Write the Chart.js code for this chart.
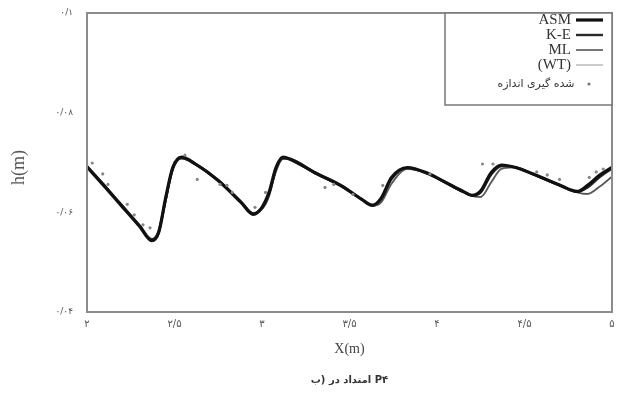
<!DOCTYPE html>
<html>
<head>
<meta charset="utf-8">
<script src="https://cdn.jsdelivr.net/npm/chart.js@4.4.1/dist/chart.umd.min.js"></script>
<style>
html, body { margin: 0; padding: 0; background: #fff; }
</style>
</head>
<body>
<canvas id="chart" width="623" height="397"></canvas>
<script>
// tick labels (Persian digits, "/" as decimal mark)
let xTicks = [2, 2.5, 3, 3.5, 4, 4.5, 5];
let xTickLabels = ["۲", "۲/۵", "۳", "۳/۵", "۴", "۴/۵", "۵"];
let yTicks = [0.04, 0.06, 0.08, 0.1];
let yTickLabels = ["۰/۰۴", "۰/۰۶", "۰/۰۸", "۰/۱"];

// model curves share the same x positions
let xs = [2.00, 2.10, 2.20, 2.30, 2.37, 2.41, 2.45, 2.49, 2.54, 2.62, 2.75, 2.88, 2.95, 3.00,
  3.04, 3.08, 3.12, 3.16, 3.30, 3.45, 3.57, 3.63, 3.68, 3.74, 3.83, 3.95, 4.05, 4.15, 4.20,
  4.25, 4.31, 4.37, 4.45, 4.55, 4.70, 4.80, 4.86, 4.93, 5.00];
let asmH = [0.0691, 0.0652, 0.0612, 0.0572, 0.0543, 0.0560, 0.0630, 0.0690, 0.0711, 0.0697,
  0.0664, 0.0620, 0.0596, 0.0610, 0.0640, 0.0690, 0.0711, 0.0707, 0.0680, 0.0654, 0.0626,
  0.0614, 0.0628, 0.0670, 0.0690, 0.0678, 0.0660, 0.0642, 0.0634, 0.0643, 0.0680, 0.0695,
  0.0690, 0.0677, 0.0655, 0.0642, 0.0654, 0.0675, 0.0690];
let keH = [0.0693, 0.0654, 0.0614, 0.0574, 0.0546, 0.0563, 0.0628, 0.0688, 0.0709, 0.0696,
  0.0663, 0.0621, 0.0598, 0.0609, 0.0637, 0.0687, 0.0709, 0.0706, 0.0679, 0.0653, 0.0626,
  0.0615, 0.0626, 0.0667, 0.0689, 0.0677, 0.0659, 0.0641, 0.0634, 0.0640, 0.0676, 0.0693,
  0.0690, 0.0676, 0.0654, 0.0641, 0.0650, 0.0671, 0.0688];
let mlH = [0.0692, 0.0653, 0.0613, 0.0573, 0.0545, 0.0558, 0.0622, 0.0684, 0.0708, 0.0698,
  0.0665, 0.0622, 0.0598, 0.0606, 0.0632, 0.0682, 0.0707, 0.0707, 0.0681, 0.0655, 0.0627,
  0.0613, 0.0620, 0.0658, 0.0687, 0.0677, 0.0659, 0.0640, 0.0633, 0.0631, 0.0661, 0.0688,
  0.0690, 0.0676, 0.0654, 0.0640, 0.0637, 0.0652, 0.0672];
let wtH = [0.0690, 0.0651, 0.0611, 0.0571, 0.0544, 0.0556, 0.0619, 0.0682, 0.0707, 0.0697,
  0.0665, 0.0623, 0.0599, 0.0605, 0.0630, 0.0680, 0.0706, 0.0706, 0.0681, 0.0656, 0.0628,
  0.0613, 0.0618, 0.0655, 0.0686, 0.0677, 0.0659, 0.0640, 0.0632, 0.0630, 0.0658, 0.0686,
  0.0690, 0.0676, 0.0654, 0.0640, 0.0636, 0.0650, 0.0670];

// measured points
let measX = [2.03, 2.09, 2.12, 2.23, 2.27, 2.32, 2.36, 2.56, 2.63, 2.76, 2.80, 2.83, 2.96, 3.02,
  3.36, 3.41, 3.52, 3.69, 3.96, 4.26, 4.32, 4.57, 4.63, 4.70, 4.87, 4.91, 4.95];
let measH = [0.0699, 0.0677, 0.0656, 0.0616, 0.0595, 0.0575, 0.0569, 0.0715, 0.0666, 0.0656,
  0.0654, 0.0640, 0.0610, 0.0640, 0.0650, 0.0656, 0.0636, 0.0654, 0.0677, 0.0697, 0.0697,
  0.0681, 0.0675, 0.0666, 0.0670, 0.0681, 0.0687];

let names = ["ASM", "K-E", "ML", "(WT)", "اندازه گیری شده"];
let caption = "ب) در امتداد P۴";
let yTitle = "h(m)";

let toPts = (h) => xs.map((x, i) => ({ x: x, y: h[i] }));

let curve = (label, h, color, width, ord) => ({
  label: label,
  data: toPts(h),
  borderColor: color,
  backgroundColor: color,
  borderWidth: width,
  pointRadius: 0,
  cubicInterpolationMode: "monotone",
  order: ord,
});

// the source lays out its Persian words left to right, so draw them one by one
let wordsLTR = (ctx, text, x, y, align) => {
  let parts = text.replace(")", " )").split(" ");
  let gap = ctx.measureText(" ").width;
  let widths = parts.map((p) => ctx.measureText(p).width);
  let total = widths.reduce((s, w) => s + w, 0) + gap * (parts.length - 1);
  total -= gap; // ")" sits right against its letter
  let cx = align === "right" ? x - total : align === "center" ? x - total / 2 : x;
  ctx.textAlign = "left";
  parts.forEach((p, i) => {
    ctx.fillText(p, cx, y);
    cx += widths[i] + (parts[i + 1] === ")" ? 0 : gap);
  });
};

// plot frame, boxed legend, rotated y title and caption
let boxLegend = {
  id: "boxLegend",
  afterDraw(chart) {
    let ctx = chart.ctx;
    let a = chart.chartArea;
    ctx.save();
    ctx.direction = "ltr";
    ctx.strokeStyle = "#8c8c8c";
    ctx.lineWidth = 2;
    ctx.strokeRect(a.left, a.top, a.right - a.left, a.bottom - a.top);

    let bx = a.right - 167;
    let by = a.top;
    ctx.fillStyle = "#fff";
    ctx.fillRect(bx, by, 167, 92);
    ctx.strokeStyle = "#777";
    ctx.lineWidth = 1.5;
    ctx.strokeRect(bx, by, 167, 92);

    let rows = [7, 22, 37, 52, 71];
    chart.data.datasets.forEach((ds, i) => {
      let y = by + rows[i];
      ctx.fillStyle = "#333";
      ctx.textAlign = "right";
      ctx.textBaseline = "middle";
      if (i < 4) {
        ctx.font = '15px "Liberation Serif"';
        ctx.fillText(names[i], bx + 126, y);
        ctx.strokeStyle = ds.borderColor;
        ctx.lineWidth = ds.borderWidth;
        ctx.beginPath();
        ctx.moveTo(bx + 131, y);
        ctx.lineTo(bx + 158, y);
        ctx.stroke();
      } else {
        ctx.font = '11px "DejaVu Sans"';
        wordsLTR(ctx, names[i], bx + 126, y, "right");
        ctx.fillStyle = "#777";
        ctx.beginPath();
        ctx.arc(bx + 144, y, 1.6, 0, Math.PI * 2);
        ctx.fill();
      }
    });

    // y title
    ctx.save();
    ctx.translate(19, (a.top + a.bottom) / 2 + 5);
    ctx.rotate(-Math.PI / 2);
    ctx.font = '18px "Liberation Serif"';
    ctx.fillStyle = "#555";
    ctx.textAlign = "center";
    ctx.textBaseline = "middle";
    ctx.fillText(yTitle, 0, 0);
    ctx.restore();

    // caption under the x title
    ctx.font = 'bold 10px "DejaVu Sans"';
    ctx.fillStyle = "#333";
    ctx.textBaseline = "middle";
    wordsLTR(ctx, caption, (a.left + a.right) / 2, 380, "center");
    ctx.restore();
  },
};

let ctx1 = document.getElementById("chart").getContext("2d");
let chart = new Chart(ctx1, {
  type: "line",
  data: {
    datasets: [
      curve(names[0], asmH, "#111", 3.2, 2),
      curve(names[1], keH, "#2a2a2a", 2.4, 3),
      curve(names[2], mlH, "#555", 1.6, 4),
      curve(names[3], wtH, "#999", 1, 5),
      {
        label: names[4],
        data: measX.map((x, i) => ({ x: x, y: measH[i] })),
        showLine: false,
        pointStyle: "circle",
        pointRadius: 1.6,
        pointBorderWidth: 0,
        pointBackgroundColor: "#888",
        order: 1,
      },
    ],
  },
  options: {
    responsive: false,
    animation: false,
    layout: {
      padding: { left: 0, right: 11, top: 13, bottom: 25 },
    },
    scales: {
      x: {
        type: "linear",
        min: 2,
        max: 5,
        afterBuildTicks: (s) => {
          s.ticks = xTicks.map((v) => ({ value: v }));
        },
        afterFit: (s) => {
          s.height = 60;
        },
        grid: { display: false },
        border: { display: false },
        ticks: {
          autoSkip: false,
          maxRotation: 0,
          padding: -2,
          color: "#555",
          font: { family: "DejaVu Sans", size: 10 },
          callback: (v) => xTickLabels[xTicks.indexOf(v)] || "",
        },
        title: {
          display: true,
          text: "X(m)",
          color: "#444",
          font: { family: "Liberation Serif", size: 14 },
          padding: { top: 0, bottom: 14 },
        },
      },
      y: {
        min: 0.04,
        max: 0.1,
        afterBuildTicks: (s) => {
          s.ticks = yTicks.map((v) => ({ value: v }));
        },
        afterFit: (s) => {
          s.width = 87;
        },
        grid: { display: false },
        border: { display: false },
        ticks: {
          padding: 6,
          color: "#555",
          font: { family: "DejaVu Sans", size: 9 },
          callback: (v) => yTickLabels[yTicks.indexOf(v)] || "",
        },
      },
    },
    plugins: {
      legend: { display: false },
      tooltip: { enabled: false },
    },
  },
  plugins: [boxLegend],
});
</script>
</body>
</html>
